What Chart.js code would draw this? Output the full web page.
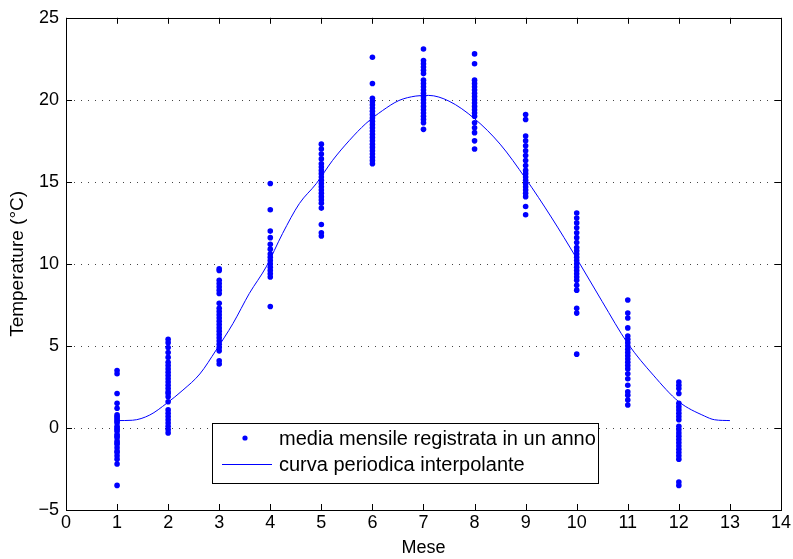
<!DOCTYPE html>
<html><head><meta charset="utf-8">
<script src="https://cdn.jsdelivr.net/npm/chart.js@4"></script>
<style>html,body{margin:0;padding:0;background:#fff}#wrap{width:793px;height:559px}</style>
</head><body><div id="wrap"><canvas id="c" width="793" height="559"></canvas></div>
<script>
const months = [1,2,3,4,5,6,7,8,9,10,11,12];
const m1  = [3.5,3.3,2.1,1.5,1.2,0.8,0.7,0.6,0.5,0.4,0.3,0.1,0.0,-0.1,-0.2,-0.4,-0.5,-0.6,-0.8,-0.9,-1.0,-1.2,-1.4,-1.5,-1.7,-1.9,-2.2,-3.5];
const m2  = [5.4,5.2,4.9,4.6,4.3,4.0,3.8,3.6,3.4,3.2,3.0,2.8,2.6,2.4,2.2,2.1,1.9,1.6,1.1,0.9,0.7,0.5,0.3,0.1,-0.1,-0.3];
const m3  = [9.7,9.6,9.0,8.8,8.6,8.4,8.2,7.6,7.3,7.1,6.9,6.7,6.5,6.3,6.1,5.9,5.7,5.5,5.3,5.1,4.9,4.7,4.1,3.9];
const m4  = [14.9,13.3,12.0,11.6,11.2,10.9,10.6,10.4,10.2,10.0,9.8,9.6,9.4,9.2,7.4];
const m5  = [17.3,17.0,16.7,16.4,16.1,15.9,15.7,15.5,15.3,15.1,14.9,14.7,14.5,14.3,14.1,13.9,13.7,13.4,12.4,11.9,11.7];
const m6  = [22.6,21.0,20.1,19.9,19.7,19.5,19.3,19.1,18.9,18.7,18.5,18.3,18.1,17.9,17.7,17.5,17.3,17.1,16.9,16.7,16.5,16.3,16.1];
const m7  = [23.1,22.4,22.2,22.0,21.8,21.6,21.2,21.0,20.8,20.6,20.4,20.2,20.0,19.8,19.6,19.4,19.2,19.0,18.8,18.6,18.2];
const m8  = [22.8,22.2,21.2,21.0,20.8,20.6,20.4,20.2,20.0,19.8,19.6,19.4,19.2,19.0,18.6,18.3,18.0,17.5,17.0];
const m9  = [19.1,18.8,17.8,17.5,17.2,16.9,16.6,16.3,16.0,15.7,15.5,15.3,15.1,14.9,14.7,14.5,14.3,14.1,13.5,13.0];
const m10 = [13.1,12.8,12.5,12.2,11.9,11.6,11.3,11.0,10.8,10.6,10.4,10.2,10.0,9.8,9.6,9.4,9.2,9.0,8.7,8.4,7.3,7.0,4.5];
const m11 = [7.8,7.0,6.7,6.1,5.6,5.4,5.2,5.0,4.8,4.6,4.4,4.2,4.0,3.8,3.6,3.3,3.0,2.6,2.2,2.0,1.7,1.4];
const m12 = [2.8,2.6,2.4,2.1,1.5,1.3,1.1,0.9,0.7,0.5,0.1,-0.1,-0.3,-0.5,-0.7,-0.9,-1.1,-1.3,-1.5,-1.7,-1.9,-3.3,-3.5];
const monthValues = [m1,m2,m3,m4,m5,m6,m7,m8,m9,m10,m11,m12];

const curveX = [1,1.3,1.64,1.97,2.29,2.62,2.94,3.27,3.59,3.92,4.24,4.57,4.9,5.22,5.55,5.87,6.2,6.52,6.85,7.1,7.5,8,8.5,9,9.5,10,10.5,11,11.5,12,12.5,12.7,13];
const curveY = [0.45,0.47,0.79,1.5,2.31,3.29,4.75,6.37,8.2,9.82,11.85,13.68,14.89,16.31,17.53,18.55,19.35,19.96,20.23,20.27,19.92,18.85,17.3,15.2,12.86,10.33,7.7,5.15,3.22,1.6,0.73,0.5,0.45];

const xTicks = [0,1,2,3,4,5,6,7,8,9,10,11,12,13,14];
const yTicks = [-5,0,5,10,15,20,25];

const seriesLabels = ['media mensile registrata in un anno','curva periodica interpolante'];

const scatterData = [];
months.forEach((m,i)=>monthValues[i].forEach(v=>scatterData.push({x:m,y:v})));
const lineData = curveX.map((x,i)=>({x:x,y:curveY[i]}));

const FONT = 'Liberation Sans, Arial, Helvetica, sans-serif';

const gridPlugin = {
  id:'dotgrid',
  beforeDatasetsDraw(chart){
    const {ctx, chartArea:a, scales:{y}} = chart;
    ctx.save();
    ctx.strokeStyle='#444'; ctx.lineWidth=1; ctx.setLineDash([1,6]);
    yTicks.forEach(t=>{ if(t===-5||t===25) return;
      const py=Math.round(y.getPixelForValue(t))+0.5;
      ctx.beginPath(); ctx.moveTo(a.left+1,py); ctx.lineTo(a.right,py); ctx.stroke();});
    ctx.restore();
  }
};

const framePlugin = {
  id:'frame',
  afterDraw(chart){
    const {ctx, chartArea:a, scales:{x,y}} = chart;
    ctx.save();
    ctx.strokeStyle='#000'; ctx.lineWidth=1;
    ctx.strokeRect(Math.round(a.left)+0.5, Math.round(a.top)+0.5, Math.round(a.right-a.left), Math.round(a.bottom-a.top));
    const L=6;
    ctx.beginPath();
    xTicks.forEach(t=>{const px=Math.round(x.getPixelForValue(t))+0.5;
      ctx.moveTo(px,a.bottom); ctx.lineTo(px,a.bottom-L);
      ctx.moveTo(px,a.top); ctx.lineTo(px,a.top+L);});
    yTicks.forEach(t=>{const py=Math.round(y.getPixelForValue(t))+0.5;
      ctx.moveTo(a.left,py); ctx.lineTo(a.left+L,py);
      ctx.moveTo(a.right,py); ctx.lineTo(a.right-L,py);});
    ctx.stroke();
    // legend box
    const bx=212.5, by=423.5, bw=386, bh=60;
    ctx.fillStyle='#fff'; ctx.fillRect(bx,by,bw,bh);
    ctx.strokeRect(bx,by,bw,bh);
    ctx.fillStyle='#0000ff';
    ctx.beginPath(); ctx.arc(245,438,2.6,0,Math.PI*2); ctx.fill();
    ctx.strokeStyle='#0000ff';
    ctx.beginPath(); ctx.moveTo(222,464.5); ctx.lineTo(272,464.5); ctx.stroke();
    ctx.fillStyle='#000'; ctx.font='20px '+FONT; ctx.textBaseline='middle'; ctx.textAlign='left';
    ctx.fillText(seriesLabels[0],279,439);
    ctx.fillText(seriesLabels[1],279,465);
    ctx.restore();
  }
};

new Chart(document.getElementById('c'),{
  type:'scatter',
  data:{datasets:[
    {label:seriesLabels[0],data:scatterData,backgroundColor:'#0000ff',borderColor:'#0000ff',pointRadius:2.8,pointBorderWidth:0,showLine:false,order:1},
    {label:seriesLabels[1],data:lineData,borderColor:'#0000ff',borderWidth:1,pointRadius:0,showLine:true,tension:0.4,cubicInterpolationMode:'monotone',order:2}
  ]},
  options:{
    responsive:false,animation:false,
    layout:{padding:{left:0,right:10,top:17,bottom:0}},
    plugins:{legend:{display:false},tooltip:{enabled:false}},
    scales:{
      x:{type:'linear',min:0,max:14,
        afterBuildTicks(s){s.ticks=xTicks.map(v=>({value:v}));},
        afterFit(s){s.height=49;},
        grid:{display:false,drawTicks:false},border:{display:false},
        ticks:{color:'#000',font:{family:FONT,size:18},padding:2,maxRotation:0,autoSkip:false},
        title:{display:true,text:'Mese',color:'#000',font:{family:FONT,size:18},padding:{top:0,bottom:0}}},
      y:{type:'linear',min:-5,max:25,
        afterBuildTicks(s){s.ticks=yTicks.map(v=>({value:v}));},
        afterFit(s){s.width=66;},
        grid:{display:false,drawTicks:false},
        border:{display:false},
        ticks:{color:'#000',font:{family:FONT,size:18},padding:7,autoSkip:false,callback:(v)=>v<0?'\u2212'+Math.abs(v):String(v)},
        title:{display:true,text:'Temperature (\u00B0C)',color:'#000',font:{family:FONT,size:19},padding:{top:6,bottom:0}}}
    }
  },
  plugins:[gridPlugin,framePlugin]
});
</script></body></html>
